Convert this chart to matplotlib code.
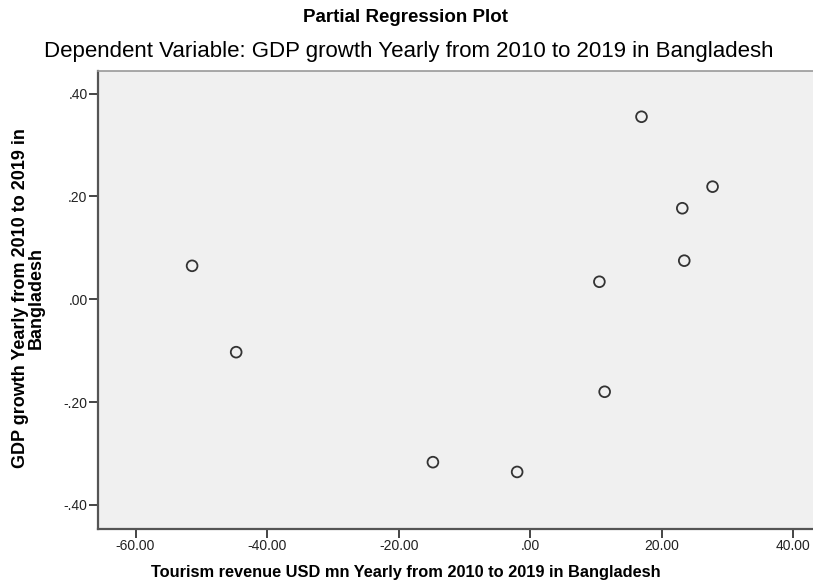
import matplotlib
matplotlib.use("Agg")
from matplotlib import pyplot as plt

plt.rcParams['font.family'] = ['Liberation Sans', 'DejaVu Sans']

# residuos parciales
turismo = [-51.4, -44.7, -14.8, -2.0, 10.5, 11.3, 16.9, 23.1, 23.4, 27.7]
pib = [0.065, -0.103, -0.317, -0.336, 0.034, -0.180, 0.355, 0.177, 0.075, 0.219]

x_ticks = [-60, -40, -20, 0, 20, 40]
x_labels = ["-60.00", "-40.00", "-20.00", ".00", "20.00", "40.00"]
y_ticks = [-0.4, -0.2, 0.0, 0.2, 0.4]
y_labels = ["-.40", "-.20", ".00", ".20", ".40"]

fig = plt.figure(figsize=(8.13, 5.88), dpi=100)
ax = fig.add_axes([98 / 813, 1 - 529 / 588, 1 - 98 / 813 + 0.01, (529 - 71) / 588])
ax.set_facecolor("#f0f0f0")

ax.scatter(turismo, pib, s=60, facecolors="none", edgecolors="#333333",
           linewidths=1.3, zorder=3)

ax.set_xlim(-65.7, 44.2)
ax.set_ylim(-0.447, 0.444)
ax.set_xticks(x_ticks)
ax.set_xticklabels(x_labels)
ax.set_yticks(y_ticks)
ax.set_yticklabels(y_labels)
ax.tick_params(direction="out", length=6.5, width=1.4, color="#444444",
               labelsize=10, labelcolor="#222222", pad=1)

for lado in ["left", "bottom"]:
    ax.spines[lado].set_color("#555555")
    ax.spines[lado].set_linewidth(1.6)
ax.spines["top"].set_color("#999999")
ax.spines["top"].set_linewidth(1.2)
ax.spines["right"].set_visible(False)

fig.text(0.499, 1 - 17 / 588, "Partial Regression Plot", ha="center",
         va="center", fontsize=13.5, fontweight="bold")
fig.text(0.503, 1 - 51 / 588,
         "Dependent Variable: GDP growth Yearly from 2010 to 2019 in Bangladesh",
         ha="center", va="center", fontsize=16)
fig.text(0.499, 1 - 572 / 588,
         "Tourism revenue USD mn Yearly from 2010 to 2019 in Bangladesh",
         ha="center", va="center", fontsize=11.8, fontweight="bold")
fig.text(28 / 813, 1 - 298 / 588,
         "GDP growth Yearly from 2010 to 2019 in\nBangladesh",
         ha="center", va="center", rotation=90, fontsize=13,
         fontweight="bold", linespacing=0.9)

fig.savefig("out.png", dpi=100)
